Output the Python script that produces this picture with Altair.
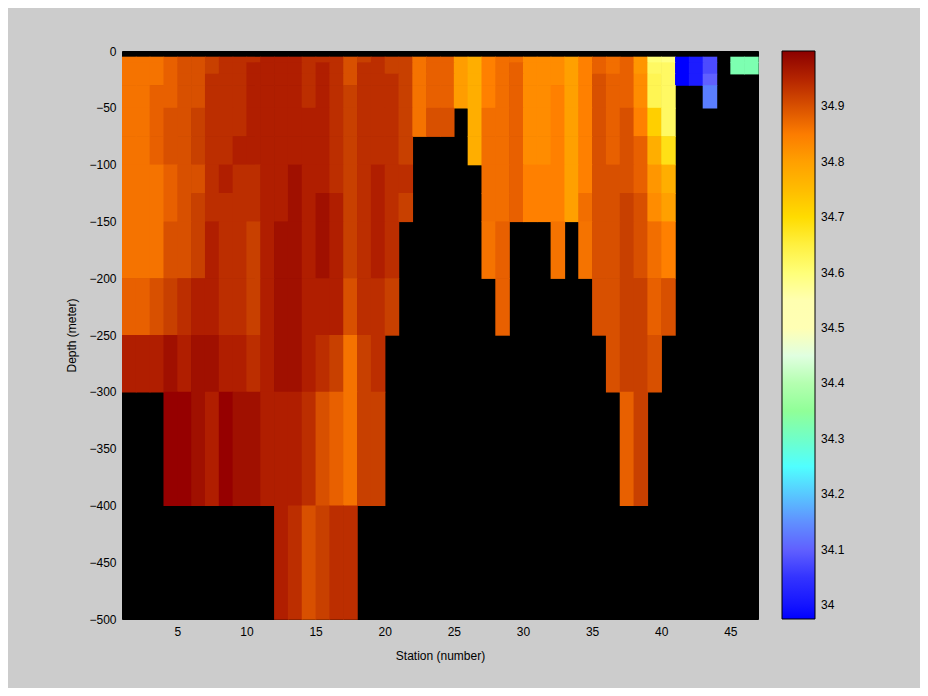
import altair as alt
import pandas as pd

N = None

# Station numbers (each cell spans station .. station+1)
stations = list(range(1, 47))
# Depth levels (m): top and bottom of each row of cells
depth_top = [5, 10, 20, 30, 50, 75, 100, 125, 150, 200, 250, 300, 400]
depth_bottom = [10, 20, 30, 50, 75, 100, 125, 150, 200, 250, 300, 400, 500]

# Salinity per depth level, stations 1..46 (None = no data)
sal_5 = [34.86, 34.86, 34.86, 34.88, 34.90, 34.90, 34.92, 34.94, 34.94, 34.94,
         34.955, 34.955, 34.955, 34.94, 34.94, 34.94, 34.90, 34.92, 34.94, 34.92,
         34.92, 34.86, 34.88, 34.88, 34.805, 34.775, 34.845, 34.865, 34.865, 34.83,
         34.83, 34.83, 34.80, 34.845, 34.88, 34.865, 34.88, 34.815, 34.60, 34.59,
         33.975, 34.01, 34.075, N, 34.325, 34.325]
sal_10 = [34.86, 34.86, 34.86, 34.88, 34.90, 34.90, 34.92, 34.94, 34.94, 34.955,
          34.955, 34.955, 34.955, 34.94, 34.955, 34.94, 34.90, 34.94, 34.94, 34.92,
          34.92, 34.86, 34.88, 34.88, 34.805, 34.775, 34.845, 34.865, 34.88, 34.83,
          34.83, 34.83, 34.80, 34.845, 34.88, 34.865, 34.88, 34.815, 34.62, 34.62,
          33.975, 34.01, 34.075, N, 34.325, 34.325]
sal_20 = [34.86, 34.86, 34.86, 34.88, 34.90, 34.90, 34.94, 34.94, 34.94, 34.955,
          34.955, 34.955, 34.955, 34.94, 34.955, 34.94, 34.90, 34.94, 34.94, 34.94,
          34.92, 34.86, 34.88, 34.88, 34.805, 34.775, 34.845, 34.865, 34.88, 34.83,
          34.83, 34.83, 34.80, 34.845, 34.90, 34.88, 34.88, 34.83, 34.635, 34.62,
          33.975, 34.01, 34.10, N, N, N]
sal_30 = [34.86, 34.86, 34.88, 34.88, 34.90, 34.90, 34.94, 34.94, 34.94, 34.955,
          34.955, 34.955, 34.955, 34.94, 34.955, 34.94, 34.92, 34.94, 34.94, 34.94,
          34.92, 34.86, 34.88, 34.88, 34.805, 34.775, 34.845, 34.865, 34.88, 34.83,
          34.83, 34.845, 34.80, 34.845, 34.90, 34.88, 34.88, 34.83, 34.635, 34.62,
          N, N, 34.13, N, N, N]
sal_50 = [34.86, 34.86, 34.88, 34.90, 34.90, 34.92, 34.94, 34.94, 34.94, 34.955,
          34.955, 34.955, 34.955, 34.955, 34.955, 34.94, 34.92, 34.94, 34.94, 34.94,
          34.92, 34.86, 34.90, 34.90, N, 34.775, 34.865, 34.865, 34.88, 34.83,
          34.83, 34.845, 34.80, 34.845, 34.90, 34.88, 34.90, 34.845, 34.72, 34.62,
          N, N, N, N, N, N]
sal_75 = [34.86, 34.86, 34.88, 34.90, 34.90, 34.92, 34.94, 34.94, 34.955, 34.955,
          34.955, 34.955, 34.955, 34.955, 34.955, 34.94, 34.92, 34.94, 34.94, 34.94,
          34.92, N, N, N, N, 34.775, 34.865, 34.865, 34.88, 34.83,
          34.83, 34.845, 34.80, 34.845, 34.90, 34.88, 34.90, 34.88, 34.775, 34.69,
          N, N, N, N, N, N]
sal_100 = [34.86, 34.86, 34.86, 34.88, 34.90, 34.90, 34.94, 34.955, 34.94, 34.94,
           34.955, 34.955, 34.97, 34.955, 34.955, 34.94, 34.92, 34.94, 34.955, 34.94,
           34.94, N, N, N, N, N, 34.865, 34.865, 34.88, 34.845,
           34.845, 34.845, 34.80, 34.845, 34.90, 34.90, 34.90, 34.88, 34.815, 34.775,
           N, N, N, N, N, N]
sal_125 = [34.86, 34.86, 34.86, 34.88, 34.90, 34.92, 34.94, 34.94, 34.94, 34.94,
           34.955, 34.955, 34.97, 34.955, 34.97, 34.955, 34.92, 34.94, 34.955, 34.94,
           34.92, N, N, N, N, N, 34.865, 34.865, 34.88, 34.845,
           34.845, 34.845, 34.80, 34.865, 34.90, 34.90, 34.92, 34.90, 34.83, 34.80,
           N, N, N, N, N, N]
sal_150 = [34.86, 34.86, 34.86, 34.90, 34.90, 34.92, 34.955, 34.94, 34.94, 34.92,
           34.955, 34.97, 34.97, 34.955, 34.97, 34.955, 34.92, 34.94, 34.955, 34.94,
           N, N, N, N, N, N, 34.86, 34.88, N, N,
           N, 34.86, N, 34.86, 34.90, 34.90, 34.92, 34.90, 34.865, 34.845,
           N, N, N, N, N, N]
sal_200 = [34.88, 34.88, 34.90, 34.92, 34.94, 34.955, 34.955, 34.94, 34.94, 34.92,
           34.955, 34.97, 34.97, 34.955, 34.955, 34.955, 34.90, 34.94, 34.94, 34.92,
           N, N, N, N, N, N, N, 34.88, N, N,
           N, N, N, N, 34.90, 34.90, 34.92, 34.92, 34.88, 34.90,
           N, N, N, N, N, N]
sal_250 = [34.955, 34.955, 34.955, 34.97, 34.955, 34.97, 34.97, 34.955, 34.955, 34.94,
           34.955, 34.97, 34.97, 34.955, 34.94, 34.92, 34.86, 34.92, 34.94, N,
           N, N, N, N, N, N, N, N, N, N,
           N, N, N, N, N, 34.90, 34.92, 34.92, 34.90, N,
           N, N, N, N, N, N]
sal_300 = [N, N, N, 34.99, 34.99, 34.97, 34.955, 34.99, 34.97, 34.97,
           34.955, 34.955, 34.955, 34.94, 34.90, 34.88, 34.86, 34.92, 34.92, N,
           N, N, N, N, N, N, N, N, N, N,
           N, N, N, N, N, N, 34.88, 34.92, N, N,
           N, N, N, N, N, N]
sal_400 = [N, N, N, N, N, N, N, N, N, N,
           N, 34.955, 34.94, 34.90, 34.92, 34.94, 34.94, N, N, N,
           N, N, N, N, N, N, N, N, N, N,
           N, N, N, N, N, N, N, N, N, N,
           N, N, N, N, N, N]

rows = [sal_5, sal_10, sal_20, sal_30, sal_50, sal_75, sal_100, sal_125,
        sal_150, sal_200, sal_250, sal_300, sal_400]

# Colour map (value stops -> colours)
cmap_values = [33.975, 34.0, 34.05, 34.1, 34.15, 34.2, 34.25, 34.3, 34.35, 34.4,
               34.45, 34.5, 34.55, 34.6, 34.65, 34.7, 34.75, 34.8, 34.83, 34.845,
               34.86, 34.88, 34.9, 34.92, 34.94, 34.955, 34.97, 34.99, 35.0]
cmap_colors = ["#0000ff", "#1414ff", "#3333ff", "#6060ff", "#6090ff", "#58c8ff",
               "#50ffff", "#70ffc8", "#90ff98", "#b4ffb0", "#e0ffe0", "#ffffff",
               "#ffffb0", "#ffff78", "#fff040", "#ffdc00", "#ffbc00", "#ffa000",
               "#ff8c00", "#ff8000", "#f57300", "#e86000", "#d85000", "#c84000",
               "#bc2e00", "#b01e00", "#a01000", "#960000", "#8b0000"]
cbar_ticks = [34.0, 34.1, 34.2, 34.3, 34.4, 34.5, 34.6, 34.7, 34.8, 34.9]

x_ticks = [5, 10, 15, 20, 25, 30, 35, 40, 45]
y_ticks = [0, -50, -100, -150, -200, -250, -300, -350, -400, -450, -500]

records = []
for i, row in enumerate(rows):
    for j, v in enumerate(row):
        if v is None:
            continue
        records.append({
            "station": stations[j],
            "station2": stations[j] + 1,
            "top": -depth_top[i],
            "bottom": -depth_bottom[i],
            "salinity": v,
        })
df = pd.DataFrame(records)

font = "Liberation Sans"
color_scale = alt.Scale(domain=cmap_values, range=cmap_colors, type="linear",
                        clamp=True)

chart = alt.Chart(df).mark_rect(strokeWidth=0, x2Offset=0.7, y2Offset=0.7).encode(
    x=alt.X("station:Q",
            scale=alt.Scale(domain=[1, 47], nice=False, zero=False),
            axis=alt.Axis(values=x_ticks, title="Station (number)", grid=False,
                          ticks=False, domain=False, labelPadding=7,
                          titlePadding=13, labelFlush=False)),
    x2="station2:Q",
    y=alt.Y("top:Q",
            scale=alt.Scale(domain=[-500, 0], nice=False, zero=False),
            axis=alt.Axis(values=y_ticks, title="Depth (meter)", grid=False,
                          ticks=False, domain=False, labelPadding=6,
                          titlePadding=10, labelFlush=False)),
    y2="bottom:Q",
    color=alt.Color("salinity:Q", scale=color_scale,
                    legend=alt.Legend(title=None, orient="right", offset=24,
                                      type="gradient",
                                      direction="vertical",
                                      gradientLength=568,
                                      gradientThickness=33,
                                      gradientStrokeColor="black",
                                      gradientStrokeWidth=1,
                                      values=cbar_ticks, format=".1~f",
                                      labelFontSize=12, labelFont=font,
                                      labelColor="black", labelOffset=6)),
).properties(
    width=636, height=568,
    background="#cccccc",
    autosize=alt.AutoSizeParams(type="none"),
    padding={"left": 114, "top": 43, "right": 162, "bottom": 69},
).configure_view(
    fill="black", stroke="black", strokeWidth=1,
).configure_axis(
    labelFont=font, titleFont=font, labelFontSize=12, titleFontSize=12,
    titleFontWeight="normal", labelColor="black", titleColor="black",
)

chart.save("out.html", embed_options={"renderer": "svg", "actions": False})
